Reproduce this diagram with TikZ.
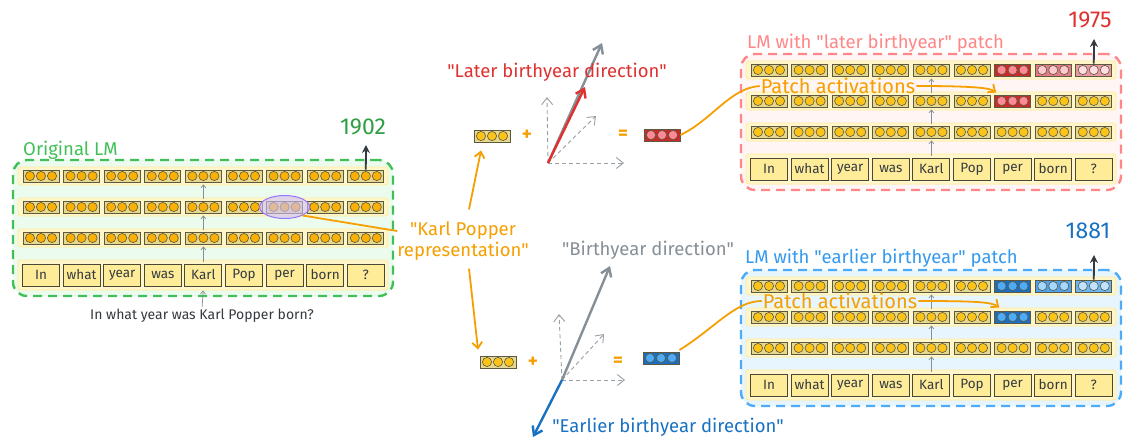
\documentclass[tikz,border=0pt]{standalone}
\usepackage{fontspec}
\setmainfont{Fira Sans}[Ligatures=TeXOff]
\usetikzlibrary{arrows.meta,shapes.geometric}
\definecolor{ggreen}{HTML}{40C057}
\definecolor{gyear}{HTML}{2F9E44}
\definecolor{gfill}{HTML}{EBFBEE}
\definecolor{rred}{HTML}{FF8787}
\definecolor{rfill}{HTML}{FFF5F5}
\definecolor{bblue}{HTML}{4DABF7}
\definecolor{bfill}{HTML}{E7F5FF}
\definecolor{btitle}{HTML}{339AF0}
\definecolor{band}{HTML}{FFF6CC}
\definecolor{bandline}{HTML}{FFEC99}
\definecolor{cellbg}{HTML}{E8D88C}
\definecolor{cellline}{HTML}{5C5940}
\definecolor{dot}{HTML}{FCC419}
\definecolor{dotL}{HTML}{FAB005}
\definecolor{tokfill}{HTML}{FFEC99}
\definecolor{tokline}{HTML}{4A4732}
\definecolor{orng}{HTML}{F59F00}
\definecolor{txtred}{HTML}{E03131}
\definecolor{txtblue}{HTML}{1971C2}
\definecolor{grayar}{HTML}{868E96}
\definecolor{grayax}{HTML}{9AA0A6}
\definecolor{txtdark}{HTML}{343A40}
\definecolor{redD}{HTML}{C92A2A}
\definecolor{pinkA}{HTML}{FF8A95}
\definecolor{redM}{HTML}{E47A87}
\definecolor{pinkB}{HTML}{FFC9D0}
\definecolor{redL}{HTML}{EA98A3}
\definecolor{pinkC}{HTML}{FFDDE2}
\definecolor{blueD}{HTML}{1C6FC0}
\definecolor{blueA}{HTML}{4DABF7}
\definecolor{blueM}{HTML}{4DA3F0}
\definecolor{blueB}{HTML}{A5D8FF}
\definecolor{blueL}{HTML}{6BB5F5}
\definecolor{blueC}{HTML}{C0E4FF}
\definecolor{lav}{HTML}{D0BFFF}
\definecolor{lavline}{HTML}{9775FA}
\tikzset{
  panel/.style={draw, rounded corners=14pt, line width=2.4pt, dash pattern=on 9pt off 6pt, minimum width=380pt, minimum height=136pt, inner sep=0pt},
  bandrow/.style={fill=band, draw=bandline, line width=0.8pt, rounded corners=3pt, minimum width=370pt, minimum height=18pt, inner sep=0pt},
  bandtok/.style={bandrow, minimum height=30pt},
  cellrect/.style={rectangle, draw=cellline, line width=0.8pt, minimum width=36pt, minimum height=12pt, inner sep=0pt},
  tok/.style={rectangle, draw=tokline, fill=tokfill, line width=1pt, minimum width=37pt, minimum height=22pt, inner sep=0pt, font=\fontsize{13.5}{15}\selectfont, text=txtdark},
  smallarr/.style={-{Straight Barb[length=3pt,width=5pt]}, draw=grayar, line width=0.7pt, shorten <=2pt, shorten >=2pt},
  yarr/.style={-{Stealth[length=8pt,width=8pt]}, draw=txtdark, line width=1.8pt},
  oline/.style={draw=orng, line width=1.8pt},
  oarrow/.style={oline, -{Straight Barb[length=6pt,width=10pt]}},
  dax/.style={draw=grayax, line width=0.9pt, dash pattern=on 4pt off 3pt, -{Straight Barb[length=7pt,width=11pt]}},
  vecarr/.style={line width=2.4pt, -{Straight Barb[length=8pt,width=11pt]}},
  lab/.style={font=\fontsize{18.5}{21}\selectfont, inner sep=0pt},
  year/.style={font=\fontsize{23}{26}\selectfont, inner sep=0pt},
  op/.style={font=\fontsize{19}{21}\selectfont\bfseries, text=orng, inner sep=0pt},
  pics/vec/.style 2 args={code={
     \node[cellrect, fill=#1] (-r) at (0,0) {};
     \foreach \d in {-11,0,11}{\draw[draw=cellline, fill=#2, line width=0.6pt] (\d,0) circle[radius=4.6];}
  }},
}
\newcommand\lmpanel[6]{%
  \node[panel, draw=#4, fill=#5] (#1box) at ({#2+162},{#3+52}) {};
  \foreach \rowi/\dy in {1/0,2/31,3/62}{%
    \node[bandrow] (#1band\rowi) at ({#2+162},{#3+\dy}) {};
    \foreach \coli in {1,...,9}{%
      \pic (#1r\rowi c\coli) at ({#2+(\coli-1)*40.6},{#3+\dy}) {vec={cellbg}{#6}};
    }%
  }%
  \node[bandtok] (#1bandt) at ({#2+162},{#3+99}) {};
  \foreach \coli/\w in {1/In,2/what,3/year,4/was,5/Karl,6/Pop,7/per,8/born,9/?}{%
    \node[tok] (#1t\coli) at ({#2+(\coli-1)*40.6},{#3+99}) {\w};
  }%
  \draw[smallarr] (#1t5.north) -- (#1r3c5-r.south);
  \draw[smallarr] (#1r3c5-r.north) -- (#1r2c5-r.south);
  \draw[smallarr] (#1r2c5-r.north) -- (#1r1c5-r.south);
  \coordinate (#1yt) at ({#2+325},{#3-31});
  \draw[yarr] (#1r1c9-r.north) -- (#1yt);
}
\begin{document}
\begin{tikzpicture}[x=1pt,y=-1pt]
\useasboundingbox[fill=white] (0,0) rectangle (1123,440);

% ---------- panels ----------
\lmpanel{L}{41}{176}{ggreen}{gfill}{dotL}
\lmpanel{T}{769}{70}{rred}{rfill}{dot}
\lmpanel{B}{769}{286}{bblue}{bfill}{dot}

% patched cells (top)
\pic (Tx1) at ({769+6*40.6},70) {vec={redD}{pinkA}};
\pic (Tx2) at ({769+7*40.6},70) {vec={redM}{pinkB}};
\pic (Tx3) at ({769+8*40.6},70) {vec={redL}{pinkC}};
\pic (Tx4) at ({769+6*40.6},101) {vec={redD}{pinkA}};
% patched cells (bottom)
\pic (Bx1) at ({769+6*40.6},286) {vec={blueD}{blueA}};
\pic (Bx2) at ({769+7*40.6},286) {vec={blueM}{blueB}};
\pic (Bx3) at ({769+8*40.6},286) {vec={blueL}{blueC}};
\pic (Bx4) at ({769+6*40.6},317) {vec={blueD}{blueA}};

% titles and years
\node[lab, anchor=west, text=ggreen] (Lttl) at (23,150) {Original LM};
\node[lab, anchor=west, text=rred] (Tttl) at (747,43) {LM with "later birthyear" patch};
\node[lab, anchor=west, text=btitle] (Bttl) at (745,258) {LM with "earlier birthyear" patch};
\node[year, text=gyear] (Ly) at (363,127) {1902};
\node[year, text=txtred] (Ty) at (1090,20) {1975};
\node[year, text=txtblue] (By) at (1088,231) {1881};

% input sentence
\node[font=\fontsize{14}{16}\selectfont, text=txtdark, inner sep=0pt] (inp) at (202,316) {In what year was Karl Popper born?};
\draw[smallarr, shorten >=4pt] (inp.north) -- (Lt5.south);

% selected representation
\node[ellipse, draw=lavline, fill=lav, fill opacity=0.6, line width=1pt, minimum width=50pt, minimum height=23pt, inner sep=0pt] (ell) at (Lr2c7-r) {};
\node[lab, text=orng, align=center] (kp) at (463,241) {"Karl Popper\\representation"};
\draw[oline] (ell.south east) -- ([yshift=10pt]kp.west);

% middle vectors
\pic (vtop) at (492,136) {vec={cellbg}{dot}};
\pic (vbot) at (498,362) {vec={cellbg}{dot}};
\pic (vred) at (662,135) {vec={redD}{pinkA}};
\pic (vbl) at (661,358) {vec={blueD}{blueA}};
\draw[oarrow] ([xshift=6pt,yshift=12pt]kp.north) -- ([xshift=-11pt,yshift=-8pt]vtop-r.south);
\draw[oarrow] ([xshift=6pt,yshift=-8pt]kp.south) -- ([xshift=-20pt,yshift=6pt]vbot-r.north);
\node[op] (plus1) at (527,135) {+};
\node[op] (eq1) at (623,135) {=};
\node[op] (plus2) at (533,362) {+};
\node[op] (eq2) at (618,362) {=};

% top axes
\coordinate (O1) at (548,163);
\coordinate (A1u) at (547,97);
\coordinate (A1r) at (624,163);
\coordinate (A1d) at (596,116);
\coordinate (G1) at (602,43);
\coordinate (R1) at (585,87);
\draw[dax] (O1) -- (A1u);
\draw[dax] (O1) -- (A1r);
\draw[dax] (O1) -- (A1d);
\draw[vecarr, draw=grayar] (O1) -- (G1);
\draw[vecarr, draw=txtred] (O1) -- (R1);
\node[lab, text=txtred] (later) at (557,72) {"Later birthyear direction"};

% bottom axes
\coordinate (O2) at (562,380);
\coordinate (A2u) at (559,314);
\coordinate (A2r) at (625,380);
\coordinate (A2d) at (604,334);
\coordinate (G2) at (610,266);
\coordinate (B2) at (533,437);
\draw[dax] (O2) -- (A2u);
\draw[dax] (O2) -- (A2r);
\draw[dax] (O2) -- (A2d);
\draw[vecarr, draw=grayar] (O2) -- (G2);
\draw[vecarr, draw=txtblue] (O2) -- (B2);
\node[lab, text=grayar] (bdir) at (648,250) {"Birthyear direction"};
\node[lab, text=txtblue] (edir) at (668,427) {"Earlier birthyear direction"};

% patch activations
\node[font=\fontsize{20}{22}\selectfont, text=orng, inner sep=1pt] (pa1) at (838,86) {Patch activations};
\node[font=\fontsize{20}{22}\selectfont, text=orng, inner sep=1pt] (pa2) at (840,301) {Patch activations};
\draw[oline] (vred-r.east) .. controls (712,120) and (730,88) .. (pa1.west);
\draw[oarrow] (pa1.east) .. controls (975,86) and (990,88) .. ([shift={(2pt,2pt)}]Tx4-r.north west);
\draw[oline] ([yshift=8pt]vbl-r.east) .. controls (715,328) and (735,301) .. (pa2.west);
\draw[oarrow] (pa2.east) .. controls (975,301) and (992,302) .. ([shift={(5pt,3pt)}]Bx4-r.north west);
\end{tikzpicture}
\end{document}
